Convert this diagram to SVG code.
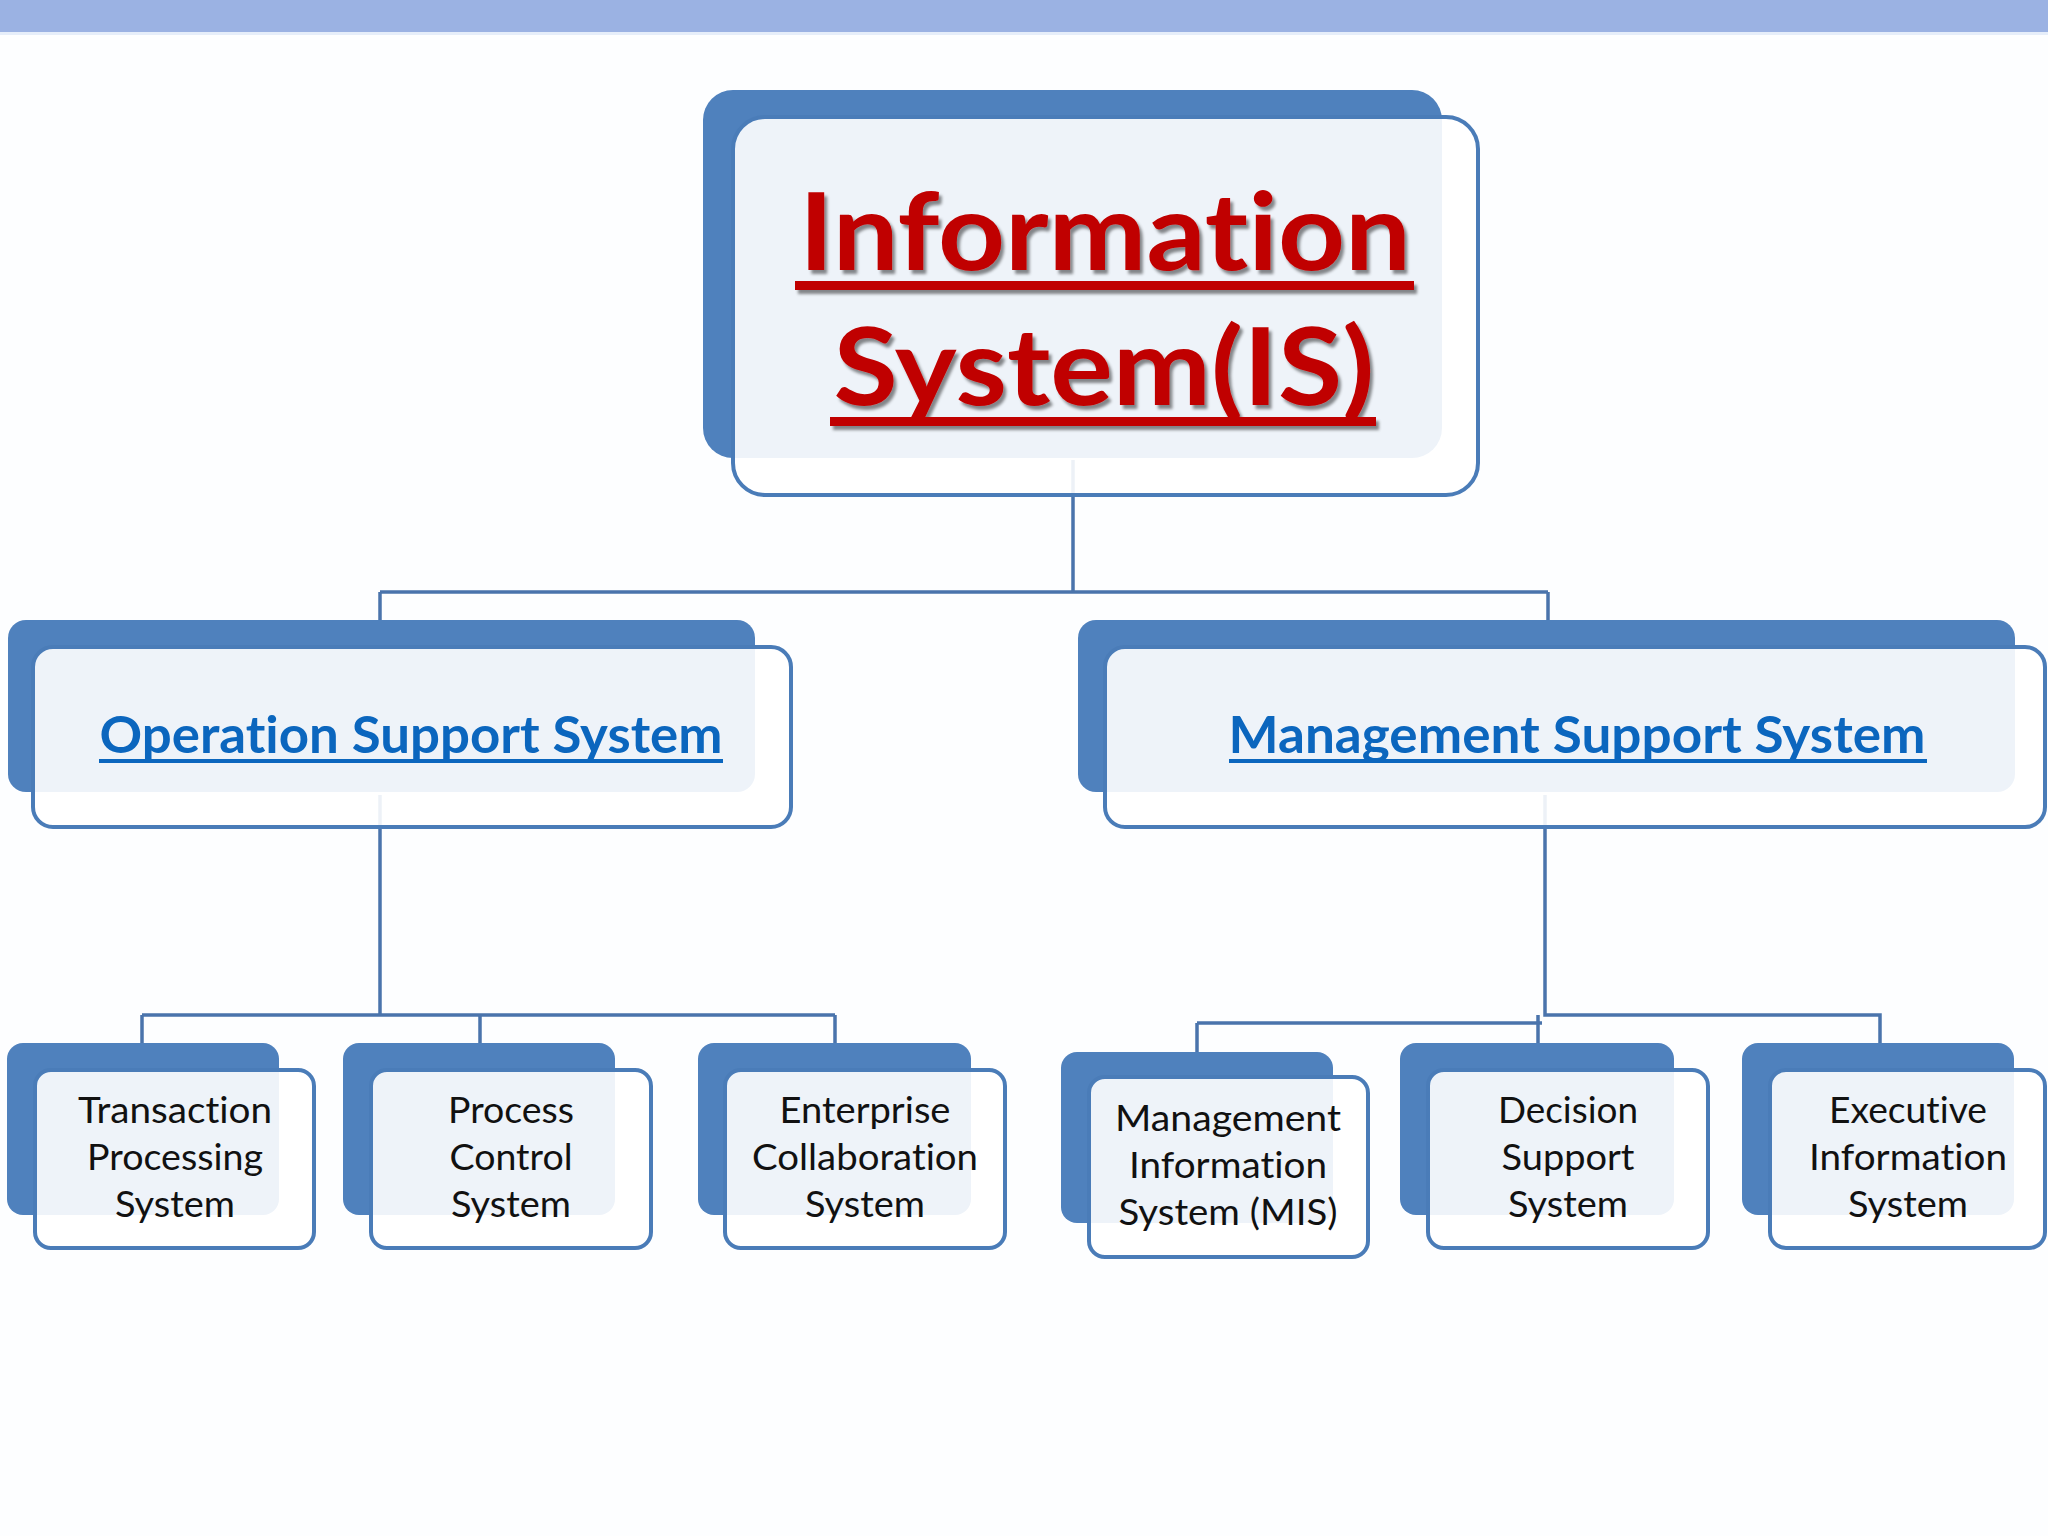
<svg xmlns="http://www.w3.org/2000/svg" width="2048" height="1536" viewBox="0 0 2048 1536">
  <defs>
    <style>
      text { font-variant-ligatures: none; font-feature-settings: "liga" 0, "dlig" 0; }
      .back { fill: #4F81BD; }
      .front { fill: #FFFFFF; fill-opacity: 0.9; stroke: #4A7CB8; stroke-width: 4; }
      .conn { fill: none; stroke: #4A74AC; stroke-width: 3.5; }
      .title { font-family: Lato, "Open Sans", "Liberation Sans", sans-serif; font-weight: bold; font-size: 107px; fill: #C00000; text-anchor: middle; }
      .lvl2 { font-family: Lato, "Open Sans", "Liberation Sans", sans-serif; font-weight: bold; font-size: 52px; fill: #0B66BE; text-anchor: middle; }
      .lvl3 { font-family: Lato, "Open Sans", "Liberation Sans", sans-serif; font-size: 36px; fill: #111111; text-anchor: middle; }
    </style>
    <filter id="shadow" x="-10%" y="-10%" width="120%" height="130%">
      <feDropShadow dx="3" dy="4" stdDeviation="1.5" flood-color="#000000" flood-opacity="0.45"/>
    </filter>
  </defs>

  <rect x="0" y="0" width="2048" height="1536" fill="#FDFEFF"/>
  <rect x="0" y="0" width="2048" height="32" fill="#9BB2E3"/>
  <rect x="0" y="32" width="2048" height="3" fill="#E6EEFA"/>

  <g id="connectors">
    <path class="conn" d="M1073,460 V592 M380,592 H1548 M380,592 V622 M1548,592 V622"/>
    <path class="conn" d="M380,795 V1015 M142,1015 H835 M142,1015 V1045 M480,1015 V1045 M835,1015 V1045"/>
    <path class="conn" d="M1545,795 V1015 H1880 V1045 M1197,1023 H1542 M1197,1023 V1054 M1538,1015 V1045"/>
  </g>

  <g id="node-is">
    <rect class="back" x="703" y="90" width="739" height="368" rx="30"/>
    <rect class="front" x="733" y="117" width="745" height="378" rx="32"/>
    <g filter="url(#shadow)">
      <text class="title" x="1105" y="270" textLength="612" lengthAdjust="spacingAndGlyphs">Information</text>
      <rect x="795" y="281" width="619" height="9" fill="#C00000"/>
      <text class="title" x="1104" y="405" textLength="541" lengthAdjust="spacingAndGlyphs">System(IS)</text>
      <rect x="830" y="417" width="546" height="9" fill="#C00000"/>
    </g>
  </g>

  <g id="node-oss">
    <rect class="back" x="8" y="620" width="747" height="172" rx="18"/>
    <rect class="front" x="33" y="647" width="758" height="180" rx="20"/>
    <text class="lvl2" x="411" y="753" textLength="623" lengthAdjust="spacingAndGlyphs">Operation Support System</text>
    <rect x="99" y="759" width="624" height="4" fill="#0B66BE"/>
  </g>

  <g id="node-mss">
    <rect class="back" x="1078" y="620" width="937" height="172" rx="18"/>
    <rect class="front" x="1105" y="647" width="940" height="180" rx="20"/>
    <text class="lvl2" x="1577" y="753" textLength="697" lengthAdjust="spacingAndGlyphs">Management Support System</text>
    <rect x="1229" y="759" width="698" height="4" fill="#0B66BE"/>
  </g>

  <g id="node-tps">
    <rect class="back" x="7" y="1043" width="272" height="172" rx="16"/>
    <rect class="front" x="35" y="1070" width="279" height="178" rx="16"/>
    <text class="lvl3" x="175" y="1123" textLength="194" lengthAdjust="spacingAndGlyphs">Transaction</text>
    <text class="lvl3" x="175" y="1170" textLength="176" lengthAdjust="spacingAndGlyphs">Processing</text>
    <text class="lvl3" x="175" y="1217" textLength="120" lengthAdjust="spacingAndGlyphs">System</text>
  </g>

  <g id="node-pcs">
    <rect class="back" x="343" y="1043" width="272" height="172" rx="16"/>
    <rect class="front" x="371" y="1070" width="280" height="178" rx="16"/>
    <text class="lvl3" x="511" y="1123" textLength="126" lengthAdjust="spacingAndGlyphs">Process</text>
    <text class="lvl3" x="511" y="1170" textLength="123" lengthAdjust="spacingAndGlyphs">Control</text>
    <text class="lvl3" x="511" y="1217" textLength="120" lengthAdjust="spacingAndGlyphs">System</text>
  </g>

  <g id="node-ecs">
    <rect class="back" x="698" y="1043" width="273" height="172" rx="16"/>
    <rect class="front" x="725" y="1070" width="280" height="178" rx="16"/>
    <text class="lvl3" x="865" y="1123" textLength="171" lengthAdjust="spacingAndGlyphs">Enterprise</text>
    <text class="lvl3" x="865" y="1170" textLength="226" lengthAdjust="spacingAndGlyphs">Collaboration</text>
    <text class="lvl3" x="865" y="1217" textLength="120" lengthAdjust="spacingAndGlyphs">System</text>
  </g>

  <g id="node-mis">
    <rect class="back" x="1061" y="1052" width="272" height="171" rx="16"/>
    <rect class="front" x="1089" y="1077" width="279" height="180" rx="16"/>
    <text class="lvl3" x="1228" y="1131" textLength="226" lengthAdjust="spacingAndGlyphs">Management</text>
    <text class="lvl3" x="1228" y="1178" textLength="198" lengthAdjust="spacingAndGlyphs">Information</text>
    <text class="lvl3" x="1228" y="1225" textLength="219" lengthAdjust="spacingAndGlyphs">System (MIS)</text>
  </g>

  <g id="node-dss">
    <rect class="back" x="1400" y="1043" width="274" height="172" rx="16"/>
    <rect class="front" x="1428" y="1070" width="280" height="178" rx="16"/>
    <text class="lvl3" x="1568" y="1123" textLength="140" lengthAdjust="spacingAndGlyphs">Decision</text>
    <text class="lvl3" x="1568" y="1170" textLength="133" lengthAdjust="spacingAndGlyphs">Support</text>
    <text class="lvl3" x="1568" y="1217" textLength="120" lengthAdjust="spacingAndGlyphs">System</text>
  </g>

  <g id="node-eis">
    <rect class="back" x="1742" y="1043" width="272" height="172" rx="16"/>
    <rect class="front" x="1770" y="1070" width="275" height="178" rx="16"/>
    <text class="lvl3" x="1908" y="1123" textLength="158" lengthAdjust="spacingAndGlyphs">Executive</text>
    <text class="lvl3" x="1908" y="1170" textLength="198" lengthAdjust="spacingAndGlyphs">Information</text>
    <text class="lvl3" x="1908" y="1217" textLength="120" lengthAdjust="spacingAndGlyphs">System</text>
  </g>
</svg>
